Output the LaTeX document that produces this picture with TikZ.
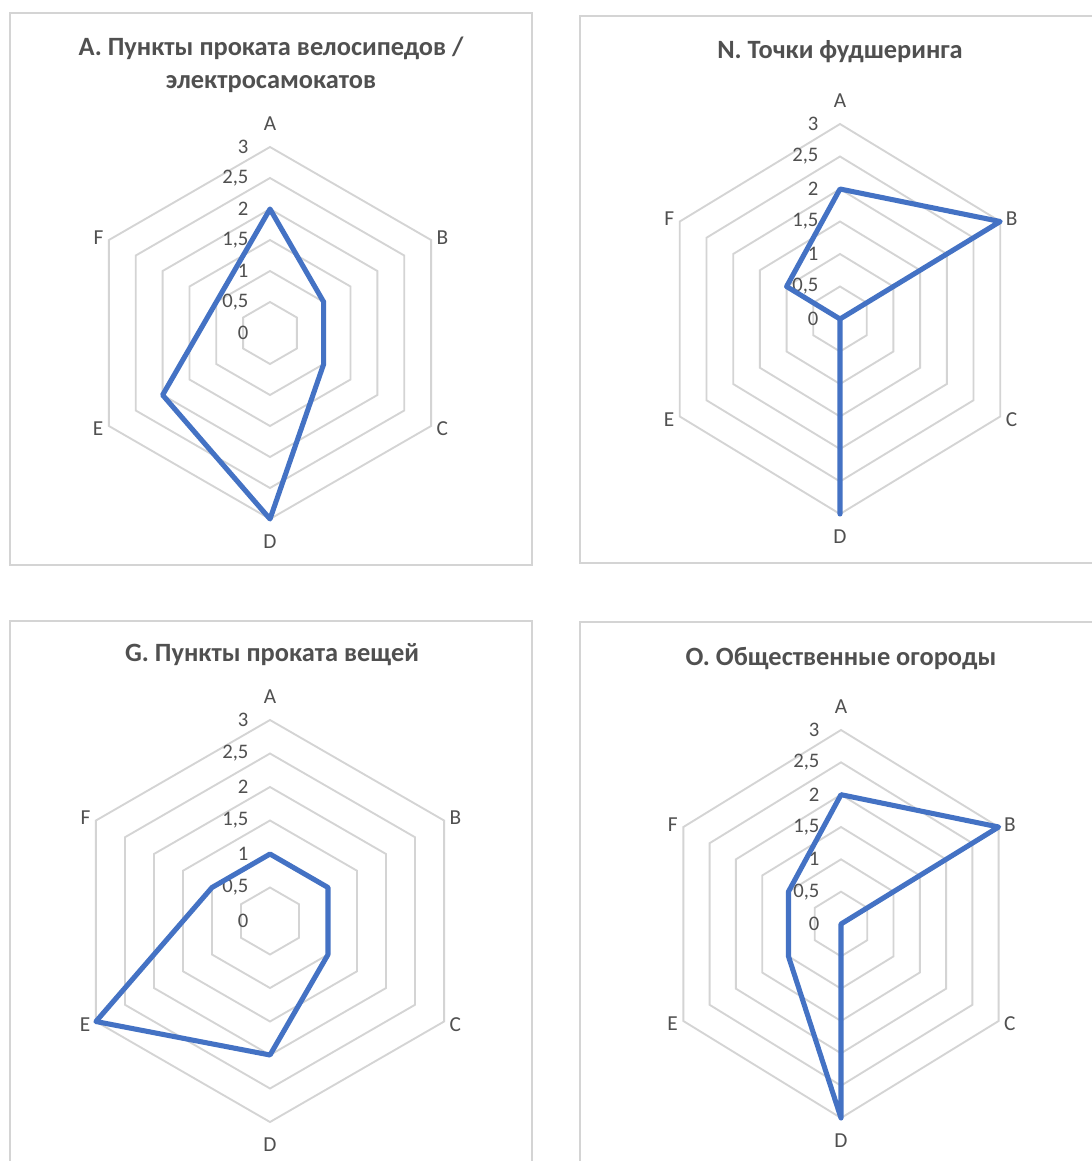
\documentclass[tikz,border=0pt]{standalone}
\usepackage{fontspec}
\setmainfont{Carlito}
\usepackage{tikz}
\usetikzlibrary{calc}

\definecolor{chartblue}{HTML}{4472C4}
\definecolor{gridgray}{HTML}{D4D4D4}
\definecolor{textgray}{HTML}{505050}

% grid rings, axis names and scale of one radar chart (#1 = name prefix)
\newcommand{\radargrid}[1]{%
  \foreach \r in {0.5,1,...,3}
    \draw[grid] (90:\r) -- (30:\r) -- (-30:\r) -- (-90:\r) -- (-150:\r) -- (150:\r) -- cycle;
  \node[axislab, above=12pt] (#1A) at (90:3) {A};
  \node[axislab, right=4pt, yshift=2pt] (#1B) at (30:3) {B};
  \node[axislab, right=4pt, yshift=-2pt] (#1C) at (-30:3) {C};
  \node[axislab, below=12pt] (#1D) at (-90:3) {D};
  \node[axislab, left=4pt, yshift=-2pt] (#1E) at (-150:3) {E};
  \node[axislab, left=4pt, yshift=2pt] (#1F) at (150:3) {F};
  \foreach \v/\txt [count=\i] in {0/0, 0.5/{0,5}, 1/1, 1.5/{1,5}, 2/2, 2.5/{2,5}, 3/3}
    \node[ticklab] (#1t\i) at (0,\v) {\txt};
}

\begin{document}
\begin{tikzpicture}[
  x=0.75pt, y=-0.75pt,
  frame/.style={draw=gridgray, line width=1.3pt},
  grid/.style={draw=gridgray, line width=1.4pt},
  series/.style={draw=chartblue, line width=3.8pt, line join=round},
  title/.style={align=center, text=textgray, inner sep=0pt, font=\bfseries\fontsize{19.8}{24.75}\selectfont},
  axislab/.style={text=textgray, inner sep=0pt, font=\fontsize{16}{19}\selectfont},
  ticklab/.style={anchor=east, xshift=-16pt, text=textgray, inner sep=0pt, font=\fontsize{15.5}{18}\selectfont}
]
\fill[white] (0,0) rectangle (1092,1161);
\useasboundingbox (0,0) rectangle (1092,1161);
\clip (0,0) rectangle (1092,1161);

% Top left: bike / scooter rental
\draw[frame] (10,13) rectangle (532,565);
\node[title] (titleA) at (271,64.5) {А. Пункты проката велосипедов /\\электросамокатов};
\begin{scope}[shift={(270,333)}, x=46.5pt, y=46.5pt]
  \radargrid{bike}
  \draw[series] (90:2) -- (30:1) -- (-30:1) -- (-90:3) -- (-150:2) -- (150:1) -- cycle;
\end{scope}

% Top right: foodsharing
\draw[frame] (580,16) rectangle (1110,563);
\node[title] (titleN) at (840,52) {N. Точки фудшеринга};
\begin{scope}[shift={(840,319)}, x=46.25pt, y=48.75pt]
  \radargrid{food}
  \draw[series] (90:2) -- (30:3) -- (-30:0) -- (-90:3) -- (-150:0) -- (150:1) -- cycle;
\end{scope}

% Bottom left: rental of things
\draw[frame] (10,621) rectangle (532,1180);
\node[title] (titleG) at (272,655) {G. Пункты проката вещей};
\begin{scope}[shift={(270,921)}, x=50.25pt, y=50.25pt]
  \radargrid{rent}
  \draw[series] (90:1) -- (30:1) -- (-30:1) -- (-90:2) -- (-150:3) -- (150:1) -- cycle;
\end{scope}

% Bottom right: community gardens
\draw[frame] (580,622) rectangle (1110,1180);
\node[title] (titleO) at (841,659) {О. Общественные огороды};
\begin{scope}[shift={(841,924)}, x=45.5pt, y=48.5pt]
  \radargrid{garden}
  \draw[series] (90:2) -- (30:3) -- (-30:0) -- (-90:3) -- (-150:1) -- (150:1) -- cycle;
\end{scope}

\end{tikzpicture}
\end{document}
